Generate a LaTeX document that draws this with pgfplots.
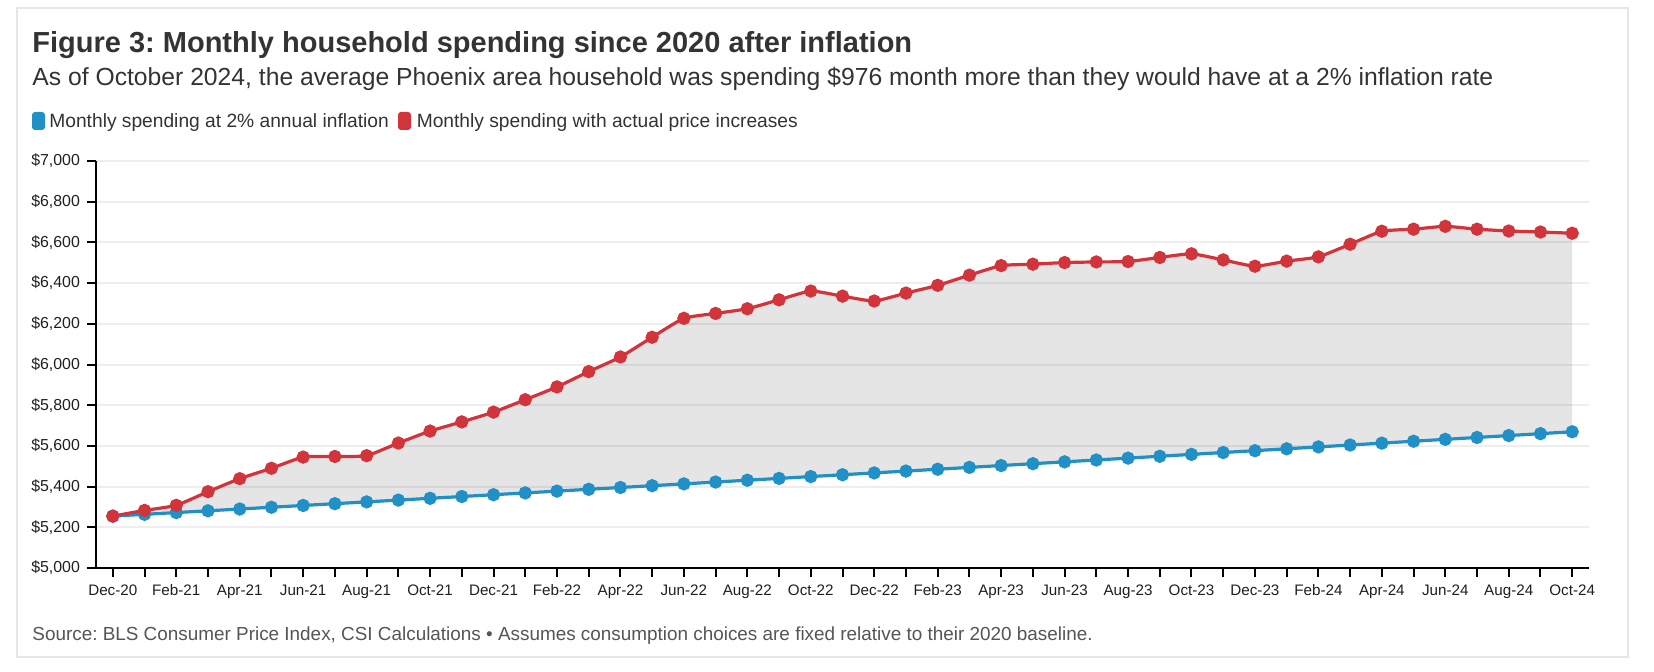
\documentclass[border=0pt]{standalone}
\usepackage{fontspec}
\setmainfont{Liberation Sans}
\usepackage{pgfplots}
\usepackage{pgfplotstable}
\pgfplotsset{compat=1.18}
\usepgfplotslibrary{fillbetween}
\frenchspacing

\definecolor{spendred}{HTML}{D1343B}
\definecolor{spendblue}{HTML}{2190C6}
\definecolor{gridgray}{HTML}{EEEEEE}
\definecolor{framegray}{HTML}{E6E6E6}
\definecolor{titlegray}{HTML}{333333}
\definecolor{sourcegray}{HTML}{555555}

% month index (0 = Dec-20), spending with actual prices, spending at 2% inflation
\pgfplotstableread{
m actual target
0  5255 5255.0
1  5283 5263.7
2  5308 5272.4
3  5375 5281.1
4  5439 5289.8
5  5490 5298.5
6  5545 5307.3
7  5548 5316.1
8  5552 5324.9
9  5614 5333.7
10 5673 5342.5
11 5718 5351.3
12 5766 5360.1
13 5827 5369.0
14 5890 5377.8
15 5965 5386.7
16 6037 5395.6
17 6134 5404.5
18 6227 5413.4
19 6251 5422.4
20 6274 5431.3
21 6318 5440.3
22 6361 5449.3
23 6336 5458.3
24 6312 5467.3
25 6351 5476.3
26 6389 5485.3
27 6439 5494.4
28 6486 5503.5
29 6493 5512.6
30 6501 5521.7
31 6504 5530.8
32 6506 5540.0
33 6526 5549.1
34 6544 5558.3
35 6514 5567.5
36 6483 5576.6
37 6508 5585.9
38 6529 5595.1
39 6591 5604.4
40 6655 5613.6
41 6665 5622.9
42 6679 5632.2
43 6665 5641.5
44 6656 5650.8
45 6651 5660.2
46 6645 5669.5
}\spending

\begin{document}
\begin{tikzpicture}
\path (0pt,0pt) rectangle (827pt,335.5pt);
\draw[framegray, line width=0.75pt] (8.5pt,7pt) rectangle (814pt,331.5pt);

\node[anchor=base west, inner sep=0pt, text=titlegray, font=\fontsize{14.5}{17}\selectfont\bfseries]
  at (16pt,309pt) {Figure 3: Monthly household spending since 2020 after inflation};
\node[anchor=base west, inner sep=0pt, text=titlegray, font=\fontsize{12.35}{15}\selectfont]
  at (16pt,292.5pt) {As of October 2024, the average Phoenix area household was spending \$976 month more than they would have at a 2\% inflation rate};

% legend
\fill[spendblue, rounded corners=1.5pt] (16pt,270.5pt) rectangle (22.5pt,279.5pt);
\node[anchor=base west, inner sep=0pt, text=titlegray, font=\fontsize{9.6}{11}\selectfont]
  at (24.5pt,272pt) {Monthly spending at 2\% annual inflation};
\fill[spendred, rounded corners=1.5pt] (199pt,270.5pt) rectangle (205.5pt,279.5pt);
\node[anchor=base west, inner sep=0pt, text=titlegray, font=\fontsize{9.6}{11}\selectfont]
  at (208.2pt,272pt) {Monthly spending with actual price increases};

\node[anchor=base west, inner sep=0pt, text=sourcegray, font=\fontsize{9.45}{11}\selectfont]
  at (16pt,15.5pt) {Source: BLS Consumer Price Index, CSI Calculations • Assumes consumption choices are fixed relative to their 2020 baseline.};

\begin{axis}[
  at={(48pt,51.5pt)}, anchor=south west,
  scale only axis, width=746.5pt, height=203.5pt,
  xmin=-0.53, xmax=46.53,
  ymin=5000, ymax=7000,
  axis lines*=left,
  axis line style={line width=1pt, black},
  tick align=outside,
  major tick length=4.5pt,
  tick style={line width=1pt, black},
  xtick={0,...,46},
  xticklabels={Dec-20,,Feb-21,,Apr-21,,Jun-21,,Aug-21,,Oct-21,,Dec-21,,Feb-22,,Apr-22,,Jun-22,,Aug-22,,Oct-22,,Dec-22,,Feb-23,,Apr-23,,Jun-23,,Aug-23,,Oct-23,,Dec-23,,Feb-24,,Apr-24,,Jun-24,,Aug-24,,Oct-24},
  xticklabel style={font=\fontsize{7.6}{9}\selectfont, text=black!88, text height=5.6pt, text depth=1.6pt},
  ytick={5000,5200,...,7000},
  yticklabel={\$\pgfmathprintnumber[1000 sep={,}, fixed, precision=0, assume math mode=true]{\tick}},
  yticklabel style={font=\fontsize{7.95}{9}\selectfont, text=black!88},
  ymajorgrids,
  grid style={line width=1pt, gridgray},
]
\addplot[name path=lowline, spendblue, line width=1.6pt, smooth, tension=0.3,
  mark=*, mark size=2.5pt, mark options={solid, fill=spendblue, draw=spendblue}]
  table[x=m, y=target] {\spending};
\addplot[name path=highline, spendred, line width=1.6pt, smooth, tension=0.3,
  mark=*, mark size=2.5pt, mark options={solid, fill=spendred, draw=spendred}]
  table[x=m, y=actual] {\spending};
\addplot[fill=black, fill opacity=0.1, draw=none] fill between[of=highline and lowline];
\end{axis}
\end{tikzpicture}
\end{document}
